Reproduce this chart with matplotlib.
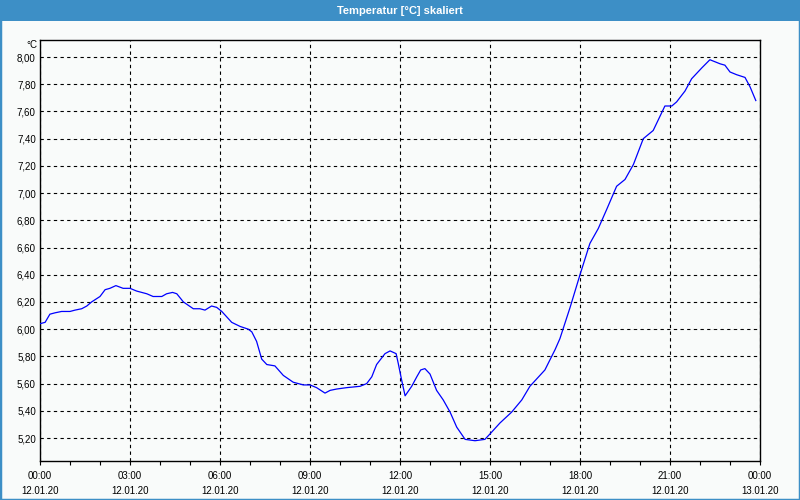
import matplotlib.pyplot as plt
import matplotlib.patches as patches
from matplotlib.ticker import MultipleLocator, FuncFormatter

# hours since 12.01.20 00:00 and temperature in degC
hours = [0.0, 0.17, 0.33, 0.5, 0.72, 1.0, 1.17, 1.39, 1.56, 1.72, 2.0, 2.17, 2.33, 2.53,
         2.77, 3.0, 3.22, 3.56, 3.77, 4.06, 4.22, 4.42, 4.56, 4.78, 5.11, 5.33, 5.5, 5.72,
         5.89, 6.06, 6.39, 6.67, 6.94, 7.06, 7.22, 7.39, 7.56, 7.83, 8.11, 8.44, 8.78, 9.0,
         9.22, 9.5, 9.67, 9.89, 10.22, 10.67, 10.89, 11.06, 11.22, 11.5, 11.67, 11.87, 11.94,
         12.06, 12.17, 12.39, 12.56, 12.69, 12.83, 13.0, 13.22, 13.44, 13.67, 13.89, 14.17,
         14.5, 14.83, 15.0, 15.33, 15.72, 16.06, 16.33, 16.83, 17.17, 17.33, 17.67, 18.0,
         18.33, 18.61, 18.89, 19.22, 19.5, 19.78, 20.11, 20.44, 20.83, 21.06, 21.22, 21.5,
         21.72, 22.06, 22.33, 22.67, 22.83, 23.0, 23.22, 23.5, 23.67, 23.86]
temps = [6.04, 6.05, 6.11, 6.12, 6.13, 6.13, 6.14, 6.15, 6.17, 6.20, 6.24, 6.29, 6.30, 6.32,
         6.30, 6.30, 6.28, 6.26, 6.24, 6.24, 6.26, 6.27, 6.26, 6.20, 6.15, 6.15, 6.14, 6.17,
         6.16, 6.13, 6.05, 6.02, 6.00, 5.98, 5.91, 5.78, 5.74, 5.73, 5.66, 5.61, 5.59, 5.59,
         5.57, 5.53, 5.55, 5.56, 5.57, 5.58, 5.60, 5.65, 5.74, 5.82, 5.84, 5.82, 5.75,
         5.62, 5.51, 5.58, 5.65, 5.70, 5.71, 5.67, 5.55, 5.48, 5.39, 5.28, 5.19,
         5.18, 5.19, 5.23, 5.31, 5.39, 5.48, 5.58, 5.70, 5.85, 5.93, 6.16, 6.40,
         6.63, 6.74, 6.88, 7.05, 7.10, 7.21, 7.40, 7.46, 7.64, 7.64, 7.67, 7.75,
         7.84, 7.92, 7.98, 7.95, 7.94, 7.89, 7.87, 7.85, 7.78, 7.68]

tick_hours = [0, 3, 6, 9, 12, 15, 18, 21, 24]
tick_labels = ["00:00\n12.01.20", "03:00\n12.01.20", "06:00\n12.01.20", "09:00\n12.01.20",
               "12:00\n12.01.20", "15:00\n12.01.20", "18:00\n12.01.20", "21:00\n12.01.20",
               "00:00\n13.01.20"]

bg = '#f9fbfa'
bar_blue = '#3d8fc6'
plt.rcParams['font.family'] = ['Liberation Sans', 'DejaVu Sans']

fig = plt.figure(figsize=(8, 5), dpi=100, facecolor=bg)
ax = fig.add_axes([0.05, 0.078, 0.9, 0.842])
ax.set_facecolor(bg)

# title bar and outer frame
fig.patches.append(patches.Rectangle((0, 0.958), 1, 0.042, transform=fig.transFigure,
                                     facecolor=bar_blue, edgecolor='none', zorder=0))
fig.patches.append(patches.Rectangle((0, 0), 1, 1, transform=fig.transFigure,
                                     facecolor='none', edgecolor=bar_blue, lw=2.5, zorder=5))
fig.text(0.5, 0.979, "Temperatur [°C] skaliert", ha='center', va='center',
         color='white', fontsize=8, weight='bold')

ax.plot(hours, temps, color='#0000ff', lw=0.9, zorder=3)

ax.set_xlim(0, 24)
ax.set_ylim(5.031, 8.125)
ax.set_xticks(tick_hours)
ax.set_xticklabels(tick_labels, linespacing=1.6)
ax.xaxis.set_minor_locator(MultipleLocator(1))
ax.yaxis.set_major_locator(MultipleLocator(0.2))
ax.yaxis.set_major_formatter(FuncFormatter(lambda v, p: f"{v:.2f}".replace('.', ',')))

ax.tick_params(axis='x', which='both', direction='out', length=3, width=0.8,
               labelsize=7, pad=4, colors='black')
ax.tick_params(axis='y', length=0, labelsize=7, pad=3, colors='black')

ax.grid(True, which='major', color='black', ls=(0, (3, 3)), lw=0.8)
for s in ax.spines.values():
    s.set_color('black')
    s.set_linewidth(1)

ax.text(-0.004, 1.0, "°C", transform=ax.transAxes, ha='right', va='top', fontsize=7)

fig.savefig('out.png', dpi=100, facecolor=bg)
